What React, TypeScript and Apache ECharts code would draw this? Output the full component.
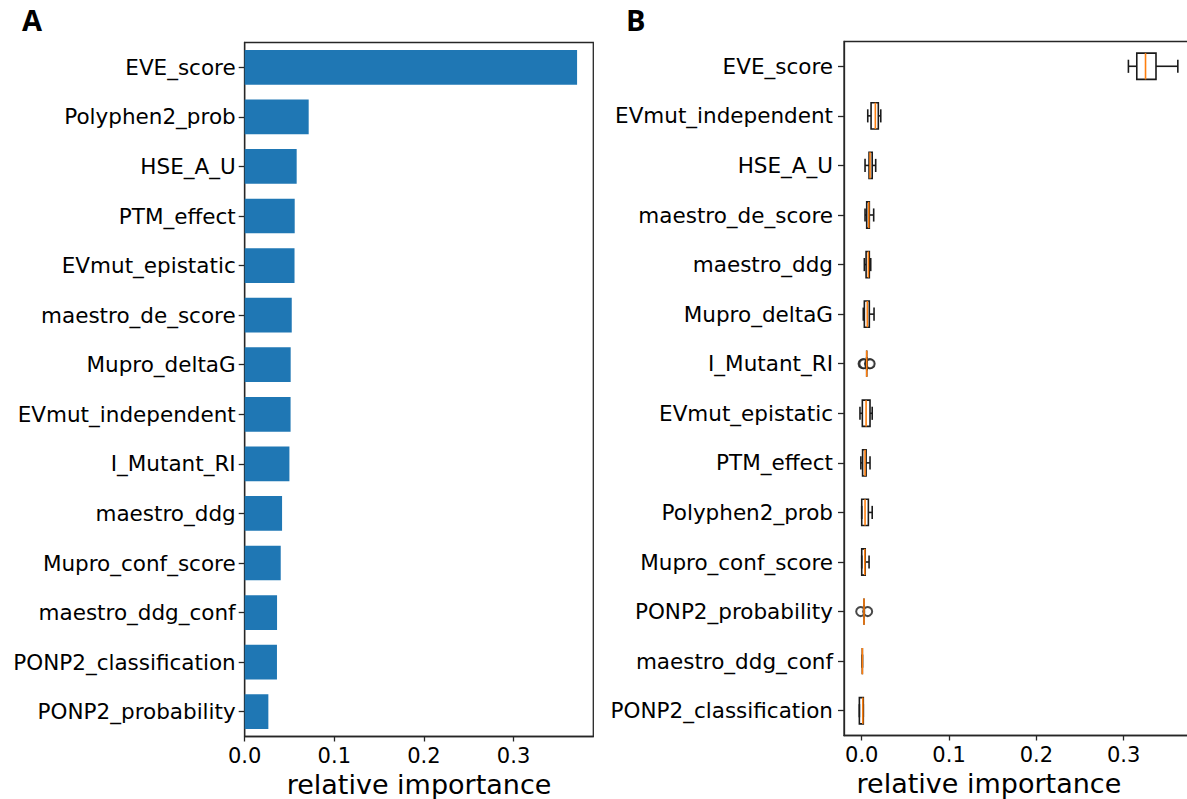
import React, { useEffect, useRef } from "react";
import * as echarts from "echarts";

const catsA = [
  "EVE_score", "Polyphen2_prob", "HSE_A_U", "PTM_effect", "EVmut_epistatic",
  "maestro_de_score", "Mupro_deltaG", "EVmut_independent", "I_Mutant_RI",
  "maestro_ddg", "Mupro_conf_score", "maestro_ddg_conf", "PONP2_classification",
  "PONP2_probability",
];
const valsA = [0.3709, 0.0714, 0.058, 0.0558, 0.0556, 0.0525, 0.0513, 0.0512, 0.0499, 0.0417, 0.0402, 0.0361, 0.0360, 0.0264];

const catsB = [
  "EVE_score", "EVmut_independent", "HSE_A_U", "maestro_de_score", "maestro_ddg",
  "Mupro_deltaG", "I_Mutant_RI", "EVmut_epistatic", "PTM_effect", "Polyphen2_prob",
  "Mupro_conf_score", "PONP2_probability", "maestro_ddg_conf", "PONP2_classification",
];
const boxMin = [0.3054, 0.0069, 0.0038, 0.0038, 0.003, 0.0018, 0.0057, -0.002, -0.001, 0.0, 0.0, 0.0026, 0.0007, -0.0027];
const boxQ1 = [0.315, 0.0107, 0.0084, 0.0057, 0.005, 0.003, 0.0057, 0.0007, 0.001, 0.0, 0.0, 0.0026, 0.0007, -0.0027];
const boxMed = [0.325, 0.0156, 0.0095, 0.008, 0.0076, 0.0064, 0.0057, 0.005, 0.0038, 0.0038, 0.0035, 0.0026, 0.0007, 0.0012];
const boxQ3 = [0.337, 0.019, 0.012, 0.0087, 0.0087, 0.0087, 0.0057, 0.0095, 0.005, 0.0076, 0.004, 0.0026, 0.0007, 0.0018];
const boxMax = [0.362, 0.0218, 0.016, 0.0137, 0.0103, 0.0141, 0.0057, 0.012, 0.0095, 0.012, 0.0084, 0.0026, 0.0007, 0.0018];

const outlierCats = ["I_Mutant_RI", "I_Mutant_RI", "I_Mutant_RI", "I_Mutant_RI", "PONP2_probability", "PONP2_probability"];
const outlierVals = [0.0015, 0.0025, 0.0088, 0.0097, -0.0012, 0.0068];

const xTicks = [0, 0.1, 0.2, 0.3];

const FONT = "DejaVu Sans";
const AX = "#262626";

export default function App() {
  const ref = useRef<HTMLDivElement>(null);
  useEffect(() => {
    if (!ref.current) return;
    const chart = echarts.init(ref.current, null, { renderer: "svg" });

    const boxData = catsB.map((_, i) => [i, boxMin[i], boxQ1[i], boxMed[i], boxQ3[i], boxMax[i]]);
    const outData = outlierCats.map((c, i) => [outlierVals[i], c]);

    const xAxisBase = (min: number, max: number, gridIndex: number, namePad: number[]) => ({
      type: "value",
      gridIndex,
      min,
      max,
      splitLine: { show: false },
      axisLine: { show: true, onZero: false, lineStyle: { color: AX, width: 1.3 } },
      axisTick: { show: true, length: 5, customValues: xTicks, lineStyle: { color: AX, width: 1.3 } },
      axisLabel: {
        customValues: xTicks,
        formatter: (v: number) => v.toFixed(1),
        fontFamily: FONT,
        fontSize: 21,
        color: "#000",
        margin: 9,
      },
      name: "relative importance",
      nameLocation: "middle",
      nameGap: 28,
      nameTextStyle: { fontFamily: FONT, fontSize: 27, color: "#000", padding: namePad },
    });

    const yAxisBase = (data: string[], gridIndex: number, margin: number) => ({
      type: "category",
      gridIndex,
      data,
      inverse: true,
      axisLine: { show: true, onZero: false, lineStyle: { color: AX, width: 1.3 } },
      axisTick: { show: true, alignWithLabel: true, length: 6, lineStyle: { color: AX, width: 1.3 } },
      axisLabel: { fontFamily: FONT, fontSize: 21.5, color: "#000", margin },
      splitLine: { show: false },
    });

    chart.setOption({
      animation: false,
      backgroundColor: "#fff",
      grid: [
        { left: 244.7, right: 1187 - 593.3, top: 42.5, bottom: 799 - 736.5, show: true, borderColor: AX, borderWidth: 1.3, containLabel: false, outerBoundsMode: "none" },
        { left: 844, right: 1187 - 1191.8, top: 41.5, bottom: 799 - 735.5, show: true, borderColor: AX, borderWidth: 1.3, containLabel: false, outerBoundsMode: "none" },
      ],
      xAxis: [xAxisBase(0, 0.389, 0, [0, 0, 0, 0]), xAxisBase(-0.0203, 0.378, 1, [0, 58, 0, 0])],
      yAxis: [yAxisBase(catsA, 0, 9), yAxisBase(catsB, 1, 11)],
      graphic: [
        { type: "text", left: 22, top: 5, style: { text: "A", font: "bold 29px 'Open Sans'", fill: "#000" } },
        { type: "text", left: 626, top: 5, style: { text: "B", font: "bold 29px 'Open Sans'", fill: "#000" } },
      ],
      series: [
        {
          type: "bar",
          xAxisIndex: 0,
          yAxisIndex: 0,
          data: valsA,
          barWidth: "70%",
          itemStyle: { color: "#1f77b4" },
        },
        {
          type: "scatter",
          xAxisIndex: 1,
          yAxisIndex: 1,
          data: outData,
          symbol: "emptyCircle",
          symbolSize: 9,
          itemStyle: { color: "#1a1a1a", borderWidth: 1.6 },
          z: 2,
        },
        {
          type: "custom",
          xAxisIndex: 1,
          yAxisIndex: 1,
          data: boxData,
          encode: { x: [1, 2, 3, 4, 5], y: 0 },
          z: 3,
          renderItem: (params: any, api: any) => {
            const cat = api.value(0);
            const p = (v: number) => api.coord([v, cat]);
            const band = api.size([0, 1])[1];
            const hh = band * 0.265;
            const ch = hh / 2;
            const mn = p(api.value(1));
            const q1 = p(api.value(2));
            const md = p(api.value(3));
            const q3 = p(api.value(4));
            const mx = p(api.value(5));
            const y = mn[1];
            const st = { stroke: "#1a1a1a", lineWidth: 1.6, fill: "none" };
            return {
              type: "group",
              children: [
                { type: "line", shape: { x1: mn[0], y1: y, x2: q1[0], y2: y }, style: st },
                { type: "line", shape: { x1: q3[0], y1: y, x2: mx[0], y2: y }, style: st },
                { type: "line", shape: { x1: mn[0], y1: y - ch, x2: mn[0], y2: y + ch }, style: st },
                { type: "line", shape: { x1: mx[0], y1: y - ch, x2: mx[0], y2: y + ch }, style: st },
                { type: "rect", shape: { x: q1[0], y: y - hh, width: Math.max(q3[0] - q1[0], 0), height: 2 * hh }, style: st },
                { type: "line", shape: { x1: md[0], y1: y - hh, x2: md[0], y2: y + hh }, style: { stroke: "#ff7f0e", lineWidth: 1.6 } },
              ],
            };
          },
        },
      ],
    });
    return () => chart.dispose();
  }, []);
  return (
    <div style={{ position: "fixed", left: 0, top: 0, width: 1187, height: 799, background: "#fff" }}>
      <div ref={ref} style={{ width: 1187, height: 799 }} />
    </div>
  );
}
